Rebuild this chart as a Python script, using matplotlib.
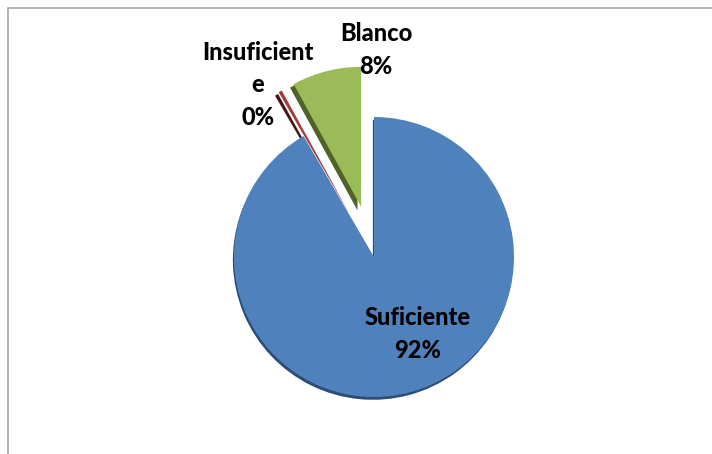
import matplotlib
matplotlib.use('Agg')
import matplotlib.pyplot as plt
from matplotlib.patches import Rectangle

# Chart data
categories = ['Suficiente', 'Insuficiente', 'Blanco']
values = [91.6, 0.4, 8.0]
colors = ['#4F81BD', '#A03C39', '#9BBB59']
side_colors = ['#2C4D75', '#4A1614', '#4F6228']
explode = [0.0, 0.36, 0.37]

W, H = 712, 454
cx, cy, r = 374, 257, 140  # pie centre / radius in pixels (from top-left)

fig = plt.figure(figsize=(W / 100, H / 100), dpi=100)
ax = fig.add_axes([0, 0, 1, 1])

# 3D-ish side faces drawn first, slightly offset
shadow, _ = ax.pie(values, colors=side_colors, explode=explode, startangle=90,
                   counterclock=False, center=(-0.008, -0.02), radius=1.0,
                   wedgeprops=dict(linewidth=0))
# the small exploded slices show a wider side face on their left
for w in shadow[1:]:
    x, y = w.center
    w.set_center((x - 0.018, y - 0.005))
ax.pie(values, colors=colors, explode=explode, startangle=90,
       counterclock=False, radius=1.0,
       wedgeprops=dict(linewidth=0))

ax.set_xlim(-cx / r, (W - cx) / r)
ax.set_ylim(-(H - cy) / r, cy / r)
ax.set_aspect('auto')
ax.axis('off')

pct = [f"{round(v)}%" for v in values]
font = dict(family='Lato', fontsize=17, fontweight='black', color='black',
            ha='center', va='center', linespacing=1.5)

def px(x, y):
    return x / W, 1 - y / H

fig.text(*px(418, 334), f"{categories[0]}\n{pct[0]}", **font)
fig.text(*px(258, 85), f"Insuficient\ne\n{pct[1]}", **font)
fig.text(*px(376, 50), f"{categories[2]}\n{pct[2]}", **font)

# outer frame (chart area border)
fig.patches.append(Rectangle((8 / W, -0.1), 1.2, 1.1 - 8 / H, transform=fig.transFigure,
                             fill=False, edgecolor='#A6A6A6', linewidth=1.2))

fig.savefig('out.png', dpi=100, facecolor='white')
